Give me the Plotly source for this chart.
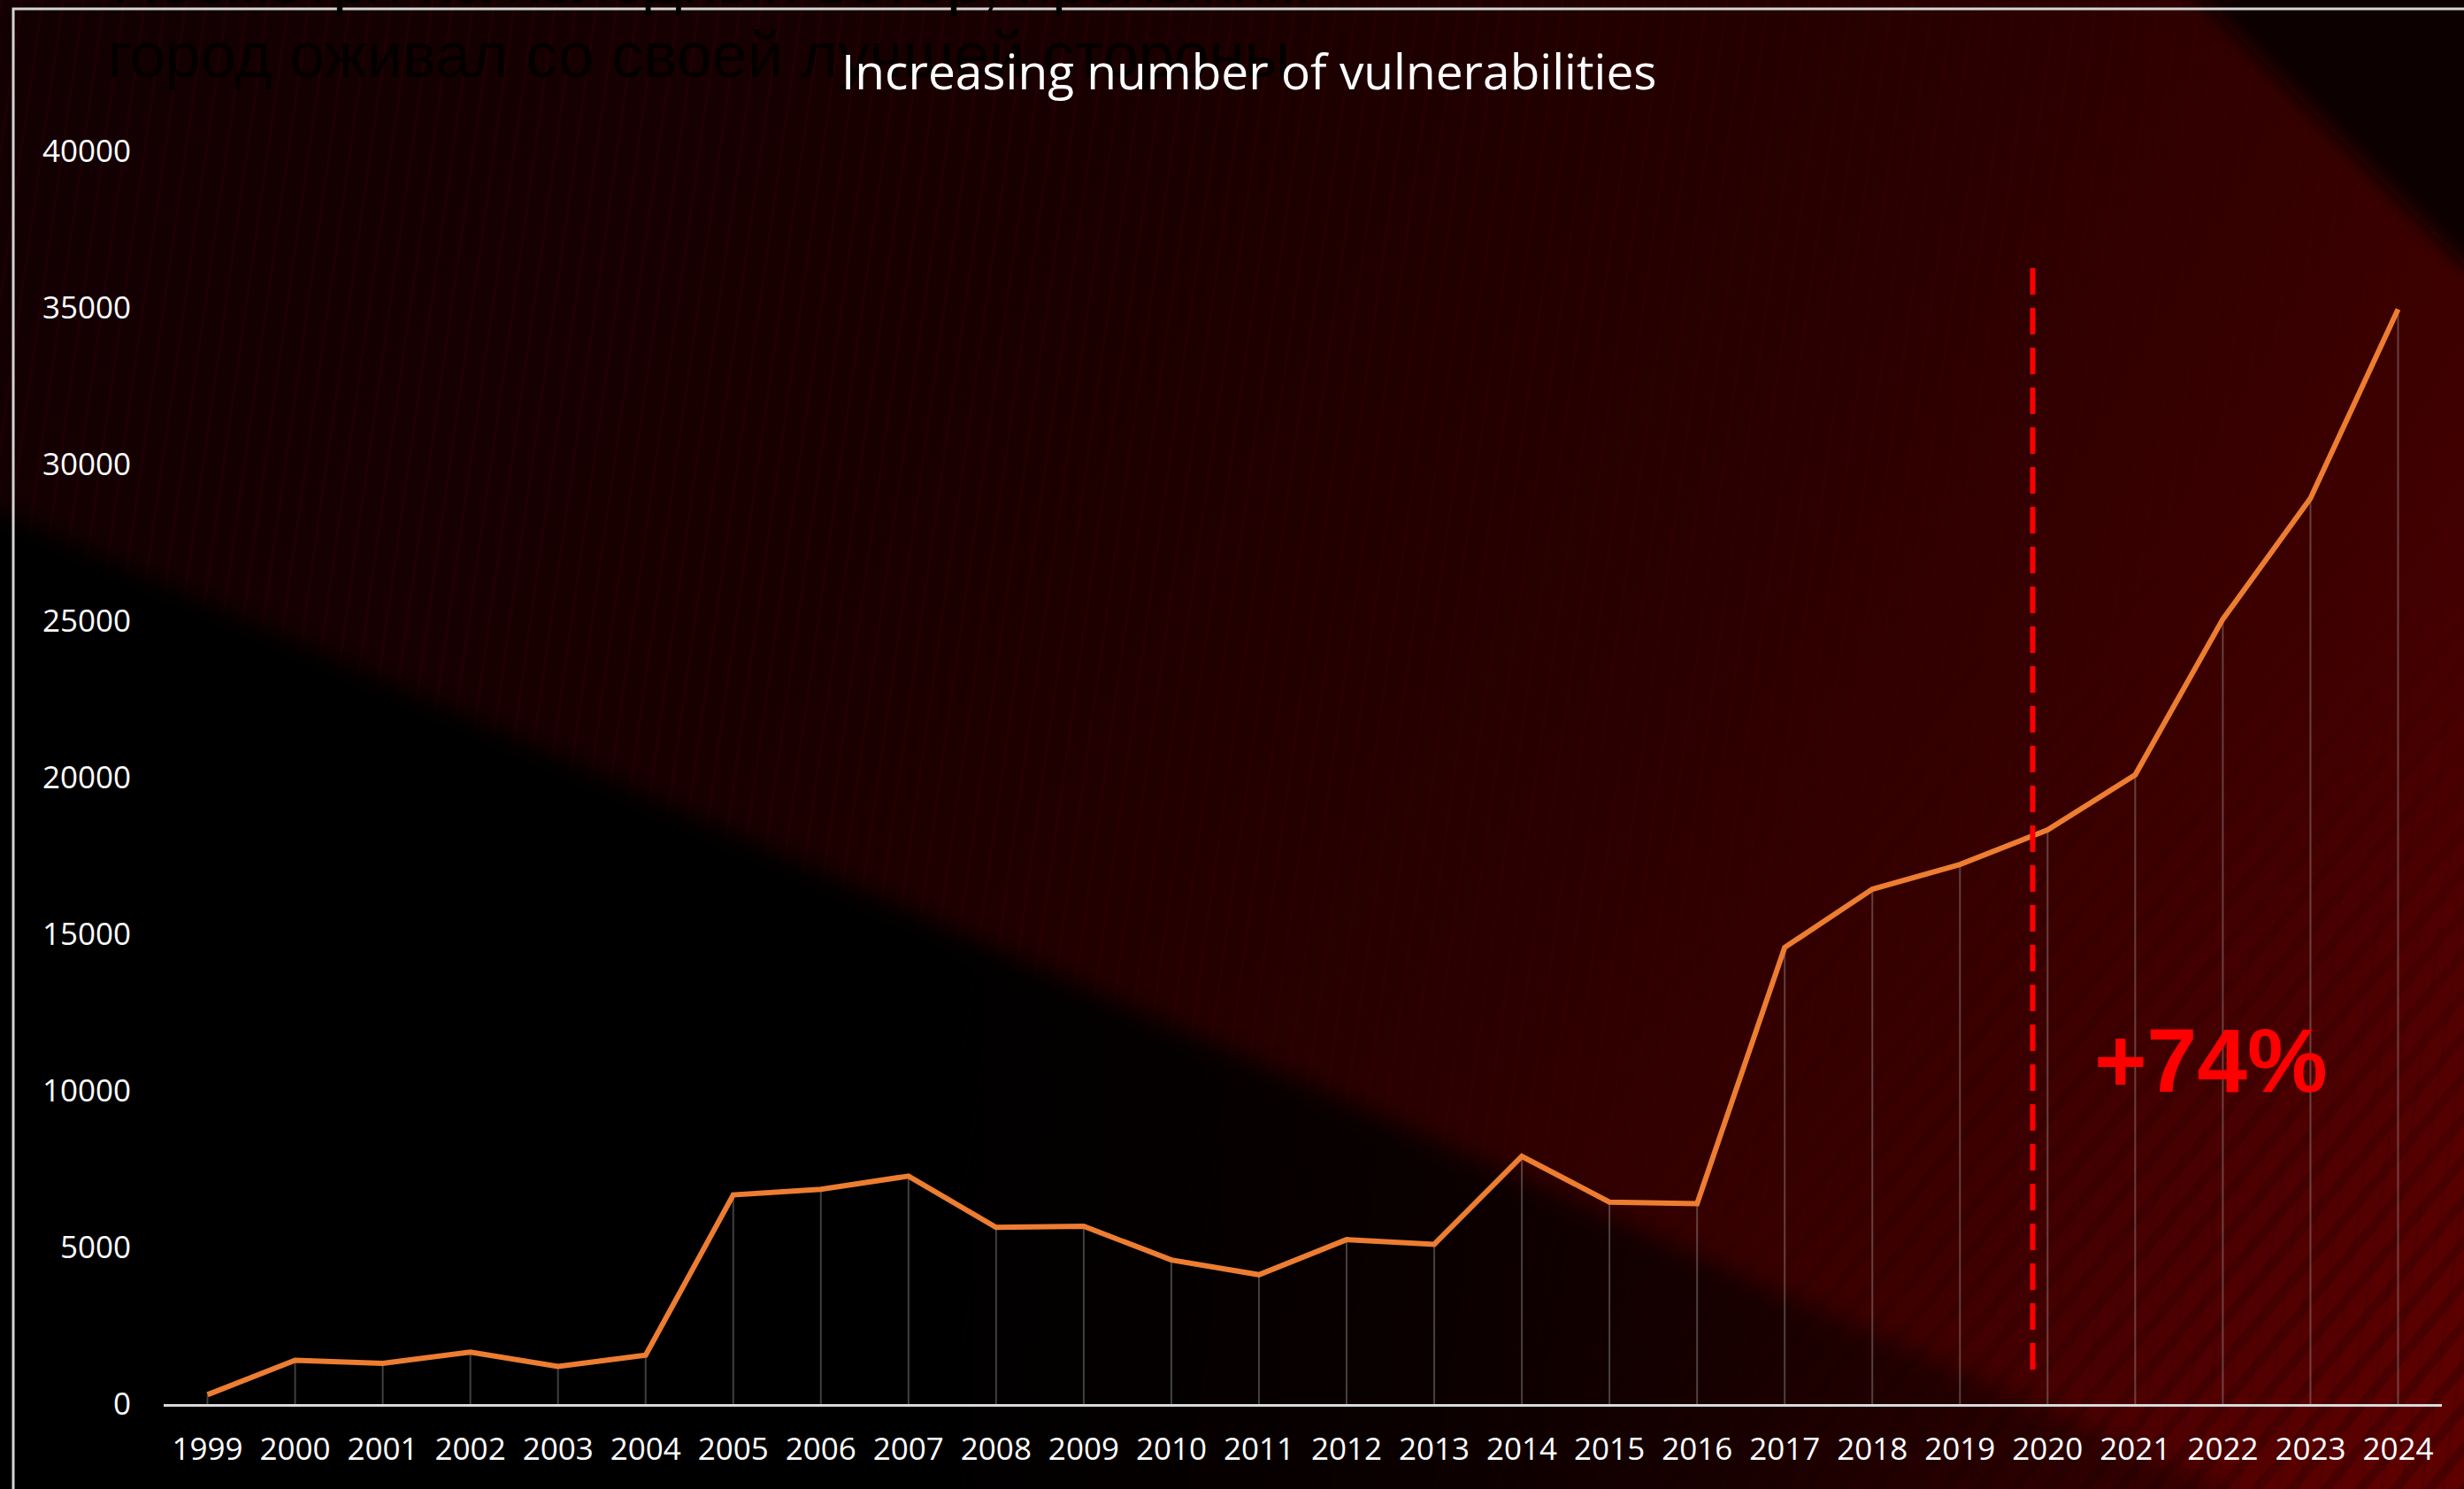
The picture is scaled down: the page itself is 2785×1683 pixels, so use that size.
import base64
import plotly.graph_objects as go

# ---------------- data ----------------
years = [1999, 2000, 2001, 2002, 2003, 2004, 2005, 2006, 2007, 2008, 2009, 2010, 2011,
         2012, 2013, 2014, 2015, 2016, 2017, 2018, 2019, 2020, 2021, 2022, 2023, 2024]
vulnerabilities = [300, 1400, 1300, 1660, 1200, 1560, 6680, 6860, 7280, 5640, 5680, 4600, 4130,
                   5250, 5100, 7910, 6450, 6400, 14580, 16440, 17230, 18330, 20090, 25060, 28920, 34960]
y_ticks = [0, 5000, 10000, 15000, 20000, 25000, 30000, 35000, 40000]
y_tick_labels = [str(v) for v in y_ticks]
tick_labels = [str(y) for y in years]

title_text = "Increasing number of vulnerabilities"
growth_label = "+74%"
mark_year = 2019.83          # position of the dashed marker line
mark_span = [1100, 36400]    # vertical extent of the marker line
growth_pos = (2021.86, 10960)
bg_line1 = "Несмотря на холодный ветер, прохожим"
bg_line2 = "город оживал со своей лучшей стороны"

# ---------------- geometry ----------------
W, H = 2785, 1683
ML, MR, MT, MB = 185, 25, 171, 96
PW, PH = W - ML - MR, H - MT - MB

# ---------------- background (SVG) ----------------
svg = f'''<svg xmlns="http://www.w3.org/2000/svg" width="{W}" height="{H}" viewBox="0 0 {W} {H}">
<defs>
 <linearGradient id="base" gradientUnits="userSpaceOnUse" x1="200" y1="0" x2="2785" y2="1500">
  <stop offset="0" stop-color="#130002"/>
  <stop offset="0.35" stop-color="#1a0000"/>
  <stop offset="0.62" stop-color="#2b0000"/>
  <stop offset="0.82" stop-color="#3e0000"/>
  <stop offset="1" stop-color="#5c0000"/>
 </linearGradient>
 <linearGradient id="blk" gradientUnits="userSpaceOnUse" x1="0" y1="0" x2="2600" y2="0">
  <stop offset="0" stop-color="#000" stop-opacity="1"/>
  <stop offset="0.40" stop-color="#000" stop-opacity="0.98"/>
  <stop offset="0.62" stop-color="#000" stop-opacity="0.78"/>
  <stop offset="0.80" stop-color="#000" stop-opacity="0.5"/>
  <stop offset="1" stop-color="#000" stop-opacity="0.3"/>
 </linearGradient>
 <filter id="blur" x="-20%" y="-20%" width="140%" height="140%"><feGaussianBlur stdDeviation="14"/></filter>
 <filter id="blur2" x="-20%" y="-20%" width="140%" height="140%"><feGaussianBlur stdDeviation="10"/></filter>
 <pattern id="str" width="30" height="30" patternUnits="userSpaceOnUse" patternTransform="rotate(40)">
  <rect width="11" height="30" fill="#000" fill-opacity="0.2"/>
 </pattern>
 <pattern id="vstr" width="23" height="40" patternUnits="userSpaceOnUse" patternTransform="rotate(8)">
  <rect width="3" height="40" fill="#3a0008" fill-opacity="0.25"/>
 </pattern>
 <radialGradient id="mg" gradientUnits="userSpaceOnUse" cx="2785" cy="1683" r="1100">
  <stop offset="0" stop-color="#fff" stop-opacity="1"/>
  <stop offset="1" stop-color="#fff" stop-opacity="0"/>
 </radialGradient>
 <mask id="m"><rect width="{W}" height="{H}" fill="url(#mg)"/></mask>
</defs>
<rect width="{W}" height="{H}" fill="url(#base)"/>
<rect width="{W}" height="{H}" fill="url(#vstr)"/>
<rect width="{W}" height="{H}" fill="url(#str)" mask="url(#m)"/>
<polygon points="-100,535 0,577 2520,1683 2520,1800 -100,1800" fill="url(#blk)" filter="url(#blur)"/>
<polygon points="2440,-50 2900,-50 2900,330 2785,300" fill="#0c0000" filter="url(#blur2)"/>
<polyline points="15,{H + 10} 15,10 {W + 10},10" fill="none" stroke="#d4d4d4" stroke-width="3"/>
</svg>'''
bg_uri = "data:image/svg+xml;base64," + base64.b64encode(svg.encode("utf-8")).decode("ascii")


def px_to_paper(px_x, px_y):
    """container pixels -> plot-area paper fractions"""
    return (px_x - ML) / PW, (H - MB - px_y) / PH


fig = go.Figure()

# drop lines from every point down to the axis
fig.add_trace(go.Scatter(
    x=years, y=vulnerabilities, mode="markers",
    marker=dict(size=1, opacity=0),
    error_y=dict(type="data", symmetric=False, array=[0] * len(years),
                 arrayminus=vulnerabilities, color="rgba(200,200,200,0.32)",
                 thickness=2, width=0),
    hoverinfo="skip", showlegend=False))

# main line
fig.add_trace(go.Scatter(
    x=years, y=vulnerabilities, mode="lines",
    line=dict(color="#ED7D31", width=6),
    showlegend=False))

# dashed marker line
fig.add_trace(go.Scatter(
    x=[mark_year, mark_year], y=mark_span, mode="lines",
    line=dict(color="#FF0000", width=6, dash="30px,15px"),
    hoverinfo="skip", showlegend=False))

bx1, by1 = px_to_paper(125, -22)
bx2, by2 = px_to_paper(120, 62)
tx, ty = px_to_paper(1412, 80)
annotations = [
    dict(x=growth_pos[0], y=growth_pos[1], xref="x", yref="y", text=growth_label,
         showarrow=False, xanchor="center", yanchor="middle",
         font=dict(family="Liberation Sans, Arial, sans-serif", size=102, color="#FF0000",
                   weight="bold")),
    dict(x=bx1, y=by1, xref="paper", yref="paper", text=bg_line1,
         showarrow=False, xanchor="left", yanchor="middle",
         font=dict(family="Liberation Sans, Arial, sans-serif", size=72, color="#040000")),
    dict(x=bx2, y=by2, xref="paper", yref="paper", text=bg_line2,
         showarrow=False, xanchor="left", yanchor="middle",
         font=dict(family="Liberation Sans, Arial, sans-serif", size=72, color="#040000")),
    # chart title, drawn last so it sits above the background text
    dict(x=tx, y=ty, xref="paper", yref="paper", text=title_text,
         showarrow=False, xanchor="center", yanchor="middle",
         font=dict(family="Open Sans, sans-serif", size=55, color="#FFFFFF")),
]

fig.update_layout(
    width=W, height=H,
    margin=dict(l=ML, r=MR, t=MT, b=MB, pad=0),
    paper_bgcolor="#000000",
    plot_bgcolor="rgba(0,0,0,0)",
    font=dict(family="Open Sans, sans-serif", color="#FFFFFF"),
    showlegend=False,
    images=[dict(source=bg_uri, xref="paper", yref="paper",
                 x=-ML / PW, y=(H - MB) / PH, sizex=W / PW, sizey=H / PH,
                 xanchor="left", yanchor="top", sizing="stretch", layer="below")],
    annotations=annotations,
    xaxis=dict(range=[1998.5, 2024.5], tickmode="array", tickvals=years, ticktext=tick_labels,
               showgrid=False, zeroline=False, showline=True, linecolor="#D9D9D9", linewidth=3,
               ticks="", ticklabelstandoff=18,
               tickfont=dict(family="Open Sans, sans-serif", size=35, color="#FFFFFF")),
    yaxis=dict(range=[0, 40000], tickmode="array", tickvals=y_ticks, ticktext=y_tick_labels,
               showgrid=False, zeroline=False, showline=False, ticks="",
               ticklabelstandoff=36,
               tickfont=dict(family="Open Sans, sans-serif", size=35, color="#FFFFFF")),
)

fig.write_html("out.html")
